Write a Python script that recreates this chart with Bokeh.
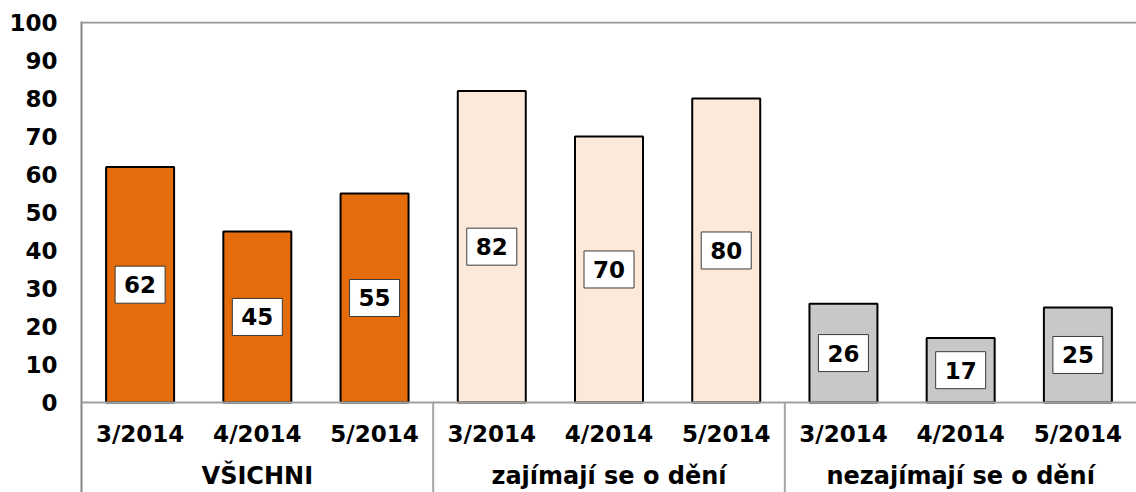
from bokeh.plotting import figure
from bokeh.models import FactorRange, Range1d, FixedTicker, Span, ColumnDataSource
from bokeh.core.properties import value
from bokeh.embed import file_html
from bokeh.resources import INLINE

groups = ["VŠICHNI", "zajímají se o dění", "nezajímají se o dění"]
months = ["3/2014", "4/2014", "5/2014"]
values_vsichni = [62, 45, 55]
values_zajimaji = [82, 70, 80]
values_nezajimaji = [26, 17, 25]
group_colors = ["#E46C0A", "#FDE9D9", "#C8C8C8"]
y_ticks = list(range(0, 101, 10))

FONT = value("DejaVu Sans")

factors = [(g, m) for g in groups for m in months]
vals = values_vsichni + values_zajimaji + values_nezajimaji
fills = [c for c in group_colors for _ in months]

src = ColumnDataSource(dict(
    x=factors,
    top=vals,
    fill=fills,
    mid=[v / 2 for v in vals],
    label=[str(v) for v in vals],
    month=[m for g in groups for m in months],
))

y_bottom = -23.69
p = figure(
    width=1136, height=492,
    x_range=FactorRange(*factors, range_padding=0, group_padding=0, factor_padding=0),
    y_range=Range1d(y_bottom, 100.26),
    output_backend="svg", toolbar_location=None,
    x_axis_location=None,
    min_border_left=81, min_border_right=0, min_border_top=21, min_border_bottom=0,
)
p.outline_line_color = None
p.xgrid.visible = False
p.ygrid.visible = False

yax = p.yaxis[0]
yax.ticker = FixedTicker(ticks=y_ticks)
yax.major_tick_line_color = None
yax.minor_tick_line_color = None
yax.major_tick_out = 0
yax.major_tick_in = 0
yax.minor_tick_out = 0
yax.axis_line_color = "#868686"
yax.axis_line_width = 2
yax.major_label_text_font = "DejaVu Sans"
yax.major_label_text_font_style = "bold"
yax.major_label_text_font_size = "23px"
yax.major_label_text_color = "black"
yax.major_label_standoff = 24

p.vbar(x="x", top="top", width=0.58, source=src, fill_color="fill",
       line_color="black", line_width=2)

p.rect(x="x", y="mid", width=50, height=37, width_units="screen", height_units="screen",
       fill_color="white", line_color="#3A3A3A", line_width=1, source=src)
p.text(x="x", y="mid", text="label", source=src, text_align="center",
       text_baseline="middle", text_font=FONT, text_font_style="bold",
       text_font_size="23px", text_color="black")

# month labels
p.text(x="x", y=-8.4, text="month", source=src, text_align="center",
       text_baseline="middle", text_font=FONT, text_font_style="bold",
       text_font_size="23px", text_color="black")

# group labels
gsrc = ColumnDataSource(dict(x=groups, text=groups))
p.text(x="x", y=-19.3, text="text", source=gsrc, text_align="center",
       text_baseline="middle", text_font=FONT, text_font_style="bold",
       text_font_size="24px", text_color="black")

# separators between groups
sep_x = [(g, 1.5) for g in groups[:-1]]
p.segment(x0=sep_x, y0=[0] * len(sep_x), x1=sep_x, y1=[y_bottom] * len(sep_x),
          line_color="#A6A6A6", line_width=2)

p.add_layout(Span(location=0, dimension="width", line_color="#A0A0A0", line_width=2))
p.add_layout(Span(location=100, dimension="width", line_color="#959595", line_width=2))

open("out.html", "w").write(file_html(p, INLINE))
